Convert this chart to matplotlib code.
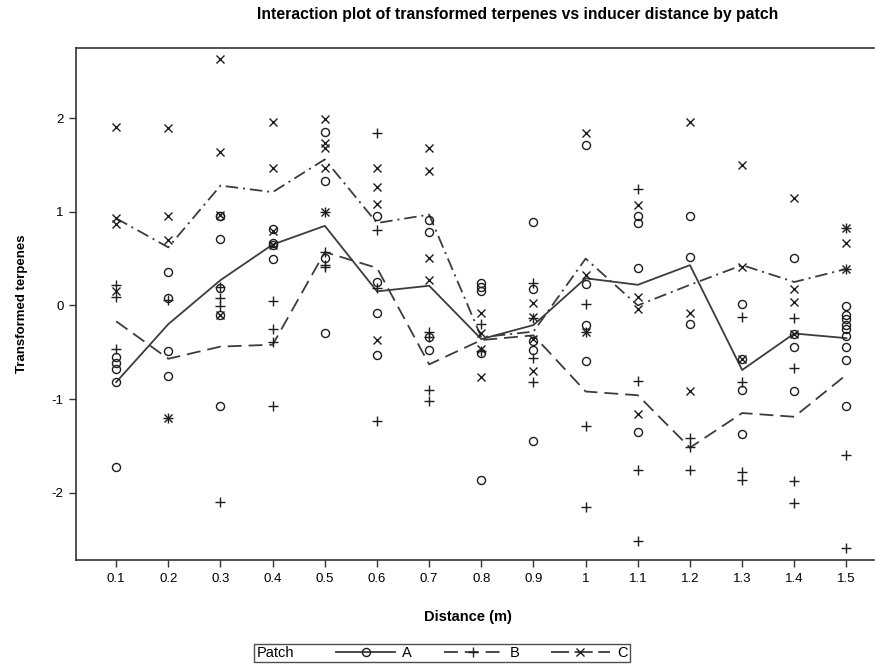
import matplotlib
matplotlib.use("Agg")
import matplotlib.pyplot as plt
from matplotlib.lines import Line2D
from matplotlib.offsetbox import HPacker
import numpy as np

plt.rcParams['font.family'] = ['Liberation Sans', 'DejaVu Sans']
plt.rcParams['lines.scale_dashes'] = False

categories = ["0.1", "0.2", "0.3", "0.4", "0.5", "0.6", "0.7", "0.8",
              "0.9", "1", "1.1", "1.2", "1.3", "1.4", "1.5"]

# individual observations per distance
A_points = [
    [-0.55, -0.62, -0.68, -0.82, -1.73],
    [0.36, 0.08, -0.49, -0.75],
    [0.96, 0.95, 0.71, 0.19, -0.10, -1.07],
    [0.82, 0.67, 0.64, 0.50],
    [1.85, 1.33, 0.51, -0.30],
    [0.95, 0.25, -0.08, -0.53],
    [0.91, 0.78, -0.34, -0.48],
    [0.24, 0.20, 0.15, -0.51, -1.86],
    [0.89, 0.18, -0.38, -0.48, -1.45],
    [1.71, 0.23, -0.21, -0.59],
    [0.96, 0.88, 0.40, -1.35],
    [0.95, 0.52, -0.20],
    [0.02, -0.57, -0.90, -1.37],
    [0.51, -0.31, -0.44, -0.91],
    [-0.01, -0.10, -0.15, -0.21, -0.25, -0.33, -0.44, -0.58, -1.08],
]
B_points = [
    [0.22, 0.09, -0.47],
    [0.06, -1.20],
    [0.20, 0.08, -0.01, -2.10],
    [0.05, -0.25, -0.39, -1.08],
    [1.00, 0.57, 0.43, 0.41],
    [1.84, 0.81, 0.19, -1.24],
    [-0.28, -0.34, -0.90, -1.02],
    [-0.20, -0.49],
    [0.24, -0.13, -0.56, -0.82],
    [0.02, -0.28, -1.29, -2.15],
    [1.24, -0.81, -1.76, -2.52],
    [-1.42, -1.51, -1.76],
    [-0.12, -0.82, -1.78, -1.86],
    [-0.13, -0.67, -1.88, -2.11],
    [0.83, 0.39, -1.60, -2.59],
]
C_points = [
    [1.91, 0.93, 0.87, 0.15],
    [1.90, 0.95, 0.70, -1.20],
    [2.63, 1.64, 0.97, -0.10],
    [1.96, 1.47, 0.79, 0.64],
    [1.99, 1.74, 1.68, 1.47, 1.00],
    [1.47, 1.27, 1.08, -0.37],
    [1.68, 1.44, 0.51, 0.27],
    [-0.08, -0.30, -0.47, -0.76],
    [0.03, -0.12, -0.36, -0.70],
    [1.84, 0.33, -0.28],
    [1.07, 0.09, -0.04, -1.16],
    [1.96, -0.08, -0.91],
    [1.50, 0.41, -0.57],
    [1.15, 0.17, 0.04, -0.31],
    [0.83, 0.67, 0.39],
]

# mean lines (interaction profile)
A_mean = [-0.82, -0.20, 0.27, 0.65, 0.85, 0.15, 0.21, -0.36, -0.21, 0.29, 0.22, 0.43, -0.69, -0.30, -0.35]
B_mean = [-0.17, -0.57, -0.44, -0.42, 0.57, 0.40, -0.63, -0.37, -0.32, -0.92, -0.96, -1.52, -1.15, -1.19, -0.74]
C_mean = [0.93, 0.62, 1.28, 1.21, 1.56, 0.88, 0.97, -0.34, -0.28, 0.50, 0.00, 0.22, 0.43, 0.25, 0.39]

patches = ["A", "B", "C"]

fig = plt.figure(figsize=(8.75, 6.69), dpi=100)
ax = fig.add_axes([76/875, 1-560/669, 1-76/875 - 0.001, (560-48)/669])

line_col = '#3c3c3c'
mk_col = '#1e1e1e'
xs = np.arange(len(categories))

styles = {
    "A": dict(marker='o', ms=5.8, dashes=None),
    "B": dict(marker='+', ms=7.2, dashes=(10, 5)),
    "C": dict(marker='x', ms=5.8, dashes=(9, 3.5, 1.5, 3.5)),
}
pts = {"A": A_points, "B": B_points, "C": C_points}
means = {"A": A_mean, "B": B_mean, "C": C_mean}

handles = []
for p in patches:
    st = styles[p]
    for i, vals in enumerate(pts[p]):
        ax.plot(np.full(len(vals), xs[i]), vals, linestyle='none', marker=st['marker'],
                ms=st['ms'], mfc='none', mec=mk_col, mew=1.0, zorder=3)
    ln, = ax.plot(xs, means[p], color=line_col, lw=1.3, zorder=2)
    if st['dashes'] is not None:
        ln.set_dashes(st['dashes'])
    h = Line2D([], [], color=line_col, lw=1.3, marker=st['marker'], ms=st['ms'],
               mfc='none', mec=mk_col, mew=1.0)
    if st['dashes'] is not None:
        h.set_dashes(st['dashes'] if p == 'B' else (13, 4))
    handles.append(h)

ax.set_xlim(-0.77, 14.53)
ax.set_ylim(-2.72, 2.75)
ax.set_xticks(xs)
ax.set_xticklabels(categories)
ax.set_yticks([-2, -1, 0, 1, 2])
ax.set_yticklabels(["-2", "-1", "0", "1", "2"])
ax.tick_params(axis='both', labelsize=9.5, length=5, width=1.0, color='#333333', pad=4)
for s in ['left', 'bottom', 'top']:
    ax.spines[s].set_linewidth(1.2)
    ax.spines[s].set_color('#333333')
ax.spines['right'].set_visible(False)

ax.set_xlabel("Distance (m)", fontsize=10.5, fontweight='bold', labelpad=10)
ax.xaxis.set_label_coords((468-76)/(875-76-0.875), -0.098)
ax.set_ylabel("Transformed terpenes", fontsize=9.5, fontweight='bold', labelpad=17)

fig.text(518/875, 1-15/669, "Interaction plot of transformed terpenes vs inducer distance by patch",
         ha='center', va='center', fontsize=11.3, fontweight='bold')

leg = fig.legend(handles, patches, title="Patch", loc='center',
                 bbox_to_anchor=(442/875, 1-653/669), ncol=3, frameon=True,
                 fancybox=False, fontsize=10.5, title_fontsize=10.5,
                 handlelength=4.0, handletextpad=0.5, columnspacing=2.2,
                 borderpad=0.15, borderaxespad=0)
fs = leg._fontsize
newbox = HPacker(pad=leg.borderpad * fs, sep=2.9 * fs, align='center',
                 children=[leg._legend_title_box, leg._legend_handle_box])
newbox.set_figure(fig)
newbox.axes = leg.axes
leg._legend_box = newbox
leg._legend_box.set_offset(leg._findoffset)
leg.get_frame().set_edgecolor('#222222')
leg.get_frame().set_linewidth(1.0)

fig.savefig("out.png", dpi=100)
